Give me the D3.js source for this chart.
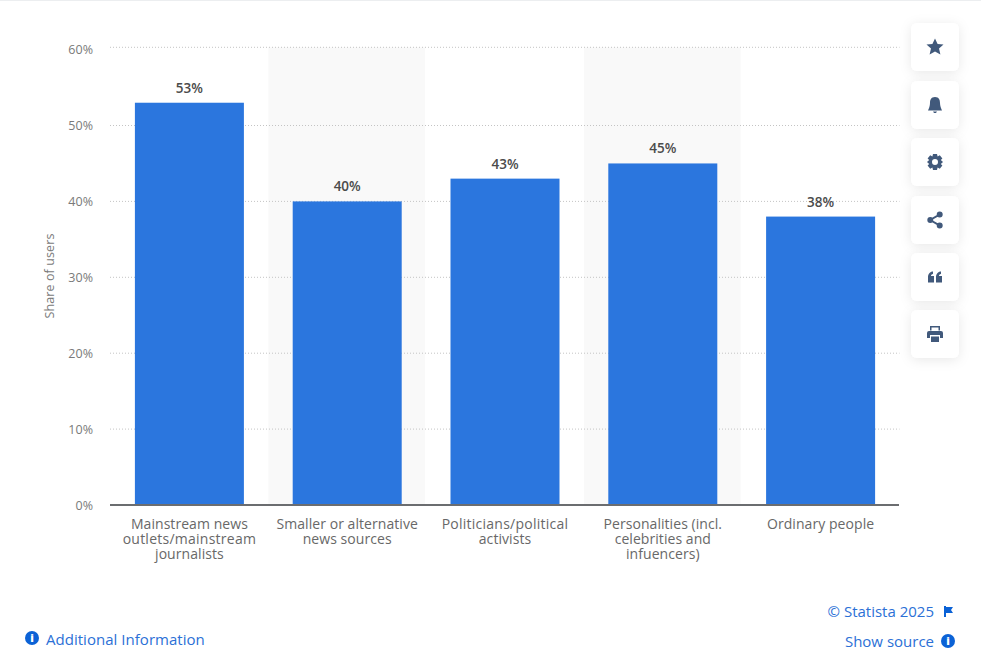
<!DOCTYPE html>
<html><head><meta charset="utf-8">
<script src="https://cdn.jsdelivr.net/npm/d3@7"></script>
<style>
html,body{margin:0;padding:0;background:#fff;overflow:hidden}
text{font-family:"Open Sans",sans-serif}
</style></head><body>
<svg id="c" width="981" height="672"></svg>
<script>
const categories = [
  ["Mainstream news","outlets/mainstream","journalists"],
  ["Smaller or alternative","news sources"],
  ["Politicians/political","activists"],
  ["Personalities (incl.","celebrities and","infuencers)"],
  ["Ordinary people"]
];
const values = [53,40,43,45,38];
const yTicks = [0,10,20,30,40,50,60];
const yTitle = "Share of users";

const svg = d3.select("#c");
const defs = svg.append("defs");
const f = defs.append("filter").attr("id","sh").attr("x","-40%").attr("y","-40%").attr("width","180%").attr("height","180%");
f.append("feDropShadow").attr("dx",0).attr("dy",2).attr("stdDeviation",6).attr("flood-color","#000").attr("flood-opacity",0.09);

svg.append("rect").attr("x",0).attr("y",0).attr("width",981).attr("height",1).attr("fill","#eceef0");

const x = d3.scaleBand().domain(d3.range(values.length)).range([110.5,899.5]).paddingInner(0).paddingOuter(0);
const y = d3.scaleLinear().domain([0,60]).range([505,49.6]);
const topGridShift = 2.3; // the top gridline sits slightly above its tick in the reference
const gridY = d => d===60 ? y(d)-topGridShift : y(d);

// alternating bands
svg.append("g").selectAll("rect").data([1,3]).join("rect")
  .attr("x",d=>x(d)).attr("y",gridY(60)).attr("width",x.bandwidth()-1).attr("height",y(0)-gridY(60)).attr("fill","#f9f9f9");

// grid
svg.append("g").selectAll("line").data(yTicks.slice(1)).join("line")
  .attr("x1",110).attr("x2",899.5).attr("y1",d=>gridY(d)).attr("y2",d=>gridY(d))
  .attr("stroke","#c4c4c4").attr("stroke-width",1).attr("stroke-dasharray","1 2");

// y labels
svg.append("g").selectAll("text").data(yTicks).join("text")
  .attr("x",93).attr("y",d=>y(d)+4.5).attr("text-anchor","end")
  .attr("font-size",12.5).attr("fill","#7a7a7a").text(d=>d+"%");

svg.append("text").attr("transform","translate(54,276) rotate(-90)").attr("text-anchor","middle")
  .attr("font-size",12.5).attr("letter-spacing",0.1).attr("fill","#7a7a7a").text(yTitle);

// bars
const bw = 109;
svg.append("g").selectAll("rect").data(values).join("rect")
  .attr("x",(d,i)=>x(i)+x.bandwidth()/2-bw/2).attr("y",d=>y(d)).attr("width",bw).attr("height",d=>y(0)-y(d))
  .attr("fill","#2b76de");

// value labels
svg.append("g").selectAll("text").data(values).join("text")
  .attr("x",(d,i)=>x(i)+x.bandwidth()/2).attr("y",d=>y(d)-10).attr("text-anchor","middle")
  .attr("font-size",13.5).attr("font-weight",600).attr("fill","#4b4b4b").text(d=>d+"%");

// baseline
svg.append("line").attr("x1",110).attr("x2",899).attr("y1",505).attr("y2",505).attr("stroke","#6b6d70").attr("stroke-width",2);

// category labels
const cat = svg.append("g").selectAll("text").data(categories).join("text")
  .attr("text-anchor","middle").attr("font-size",14).attr("fill","#686868");
cat.each(function(lines,i){
  d3.select(this).selectAll("tspan").data(lines).join("tspan")
    .attr("x",x(i)+x.bandwidth()/2).attr("y",(d,j)=>529+j*15)
    .attr("letter-spacing",d=>d.includes("/")?0.25:0.06).text(d=>d);
});

// side buttons
const iconYs = [47,105,162,220,277,334];
const iconColor = "#41597b";
const icons = [
  "M0,-8.5 L2.6,-2.9 L8.5,-2.4 L4,1.5 L5.4,7.5 L0,4.4 L-5.4,7.5 L-4,1.5 L-8.5,-2.4 L-2.6,-2.9Z",
  "M0,-8 C4,-8 5,-5 5,-2 C5,1 6,3 7,5.5 L-7,5.5 C-6,3 -5,1 -5,-2 C-5,-5 -4,-8 0,-8Z M-2,6.5 L2,6.5 L1,8 L-1,8Z",
  "M-2,-8 L2,-8 L2.6,-5.6 L4.8,-6.8 L7.4,-3.6 L5.8,-2 L8,0 L5.8,2 L7.4,3.6 L4.8,6.8 L2.6,5.6 L2,8 L-2,8 L-2.6,5.6 L-4.8,6.8 L-7.4,3.6 L-5.8,2 L-8,0 L-5.8,-2 L-7.4,-3.6 L-4.8,-6.8 L-2.6,-5.6Z M0,-3 A3,3 0 1,0 0,3 A3,3 0 1,0 0,-3Z",
  "M1.7,-5.5 a3,3 0 1,0 6,0 a3,3 0 1,0 -6,0Z M-7.7,0 a3,3 0 1,0 6,0 a3,3 0 1,0 -6,0Z M1.7,5.5 a3,3 0 1,0 6,0 a3,3 0 1,0 -6,0Z M-5,-1 L-4,0.6 L5,-4.6 L4,-6.2Z M-4,-0.6 L-5,1 L4,6.2 L5,4.6Z",
  "M-7,5.5 L-7,0 C-7,-3 -5,-5.5 -2,-5.5 L-2,-3 C-3.5,-3 -4,-2 -4,-1 L-1,-1 L-1,5.5Z M1,5.5 L1,0 C1,-3 3,-5.5 6,-5.5 L6,-3 C4.5,-3 4,-2 4,-1 L7,-1 L7,5.5Z",
  "M-5,-8 L5,-8 L5,-3.5 L3.5,-3.5 L3.5,-6.5 L-3.5,-6.5 L-3.5,-3.5 L-5,-3.5Z M-6,-3 L6,-3 Q8,-3 8,-1 L8,4 L5,4 L5,1 L-5,1 L-5,4 L-8,4 L-8,-1 Q-8,-3 -6,-3Z M-4,2.5 L4,2.5 L4,8 L-4,8Z"
];
const btn = svg.append("g").selectAll("g").data(iconYs).join("g").attr("transform",d=>`translate(935,${d})`);
btn.append("rect").attr("x",-24).attr("y",-24).attr("width",48).attr("height",48).attr("rx",6).attr("fill","#fff").attr("filter","url(#sh)");
btn.append("path").attr("d",(d,i)=>icons[i]).attr("fill",iconColor);

// footer links
const blue = "#2b70d6";
function info(cx,cy){
  const g = svg.append("g").attr("transform",`translate(${cx},${cy})`);
  g.append("circle").attr("r",7).attr("fill","#0b62d6");
  g.append("text").attr("y",4).attr("text-anchor","middle").attr("font-size",11).attr("font-weight",800).attr("fill","#fff").text("i");
}
info(32,638);
svg.append("text").attr("x",46).attr("y",645).attr("font-size",15).attr("letter-spacing",0.03).attr("fill",blue).text("Additional Information");
svg.append("text").attr("x",934).attr("y",617).attr("text-anchor","end").attr("font-size",15).attr("fill",blue).text("© Statista 2025");
svg.append("path").attr("transform","translate(944,606)").attr("d","M0,0 L2,0 L2,1 L9,1 L7,4 L9,7 L2,7 L2,11 L0,11Z").attr("fill","#0b62d6");
svg.append("text").attr("x",934).attr("y",647).attr("text-anchor","end").attr("font-size",15).attr("fill",blue).text("Show source");
info(948,641);
</script>
</body></html>
